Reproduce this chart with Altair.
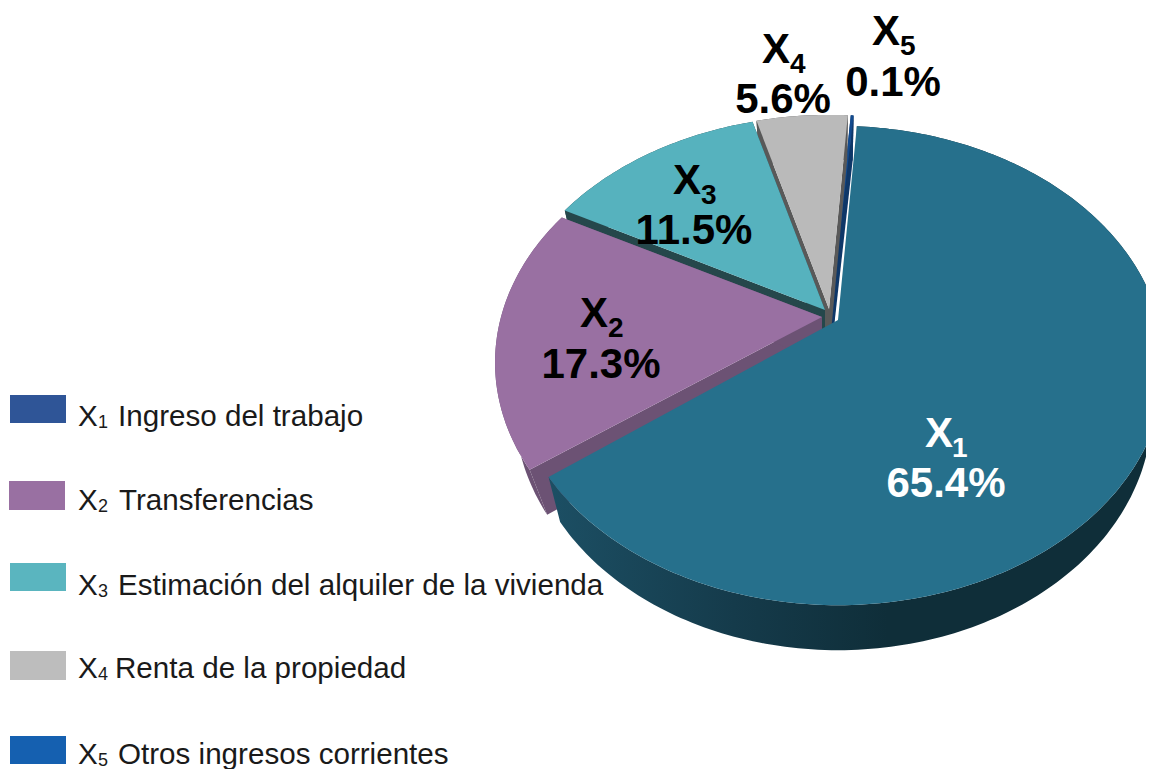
import math
import altair as alt
import pandas as pd

# ---- values
letters = ["X", "X", "X", "X", "X"]
digits = ["1", "2", "3", "4", "5"]
shares = ["65.4%", "17.3%", "11.5%", "5.6%", "0.1%"]
legend_names = ["Ingreso del trabajo", "Transferencias",
                "Estimación del alquiler de la vivienda",
                "Renta de la propiedad", "Otros ingresos corrientes"]
legend_colors = ["#2F5597", "#9970A2", "#5AB5BF", "#BDBDBD", "#1560B0"]
top_colors = ["#26708C", "#9970A2", "#56B2BE", "#BABABA", "#124A8E"]
side_colors = ["#173F50", "#6C5274", "#25474B", "#595959", "#0E3768"]

# slice edges as seen in the tilted pie (degrees clockwise from the top)
edge_start = [4.0, 234.0, 298.0, 344.5, 364.2]
edge_end = [233.0, 298.0, 344.5, 364.0, 364.8]
# each exploded slice's apex
apex_x = [838, 822, 825, 829, 831]
apex_y = [320, 317, 310, 309, 309]

# tilt of the pie
RX, RY, K = 321.0, 231.0, 0.19
DEPTH = 45.0
SHRINK = [0.96, 0.94, 0.96, 0.96, 0.96]

# label placement
code_x = [925, 580, 673, 762, 872]
code_y = [447, 327, 194, 63, 45]
sub_x = [952, 608, 701, 790, 900]
share_x = [946, 601, 694, 783, 893]
share_y = [497, 378, 244, 113, 96]
label_colors = ["white", "black", "black", "black", "black"]

# legend placement
leg_x0 = [10, 9, 10, 10, 10]
leg_x1 = [66, 65, 66, 66, 66]
leg_y0 = [395, 481, 563, 651, 736]
leg_y1 = [423, 510, 591, 680, 764]
leg_base = [426, 510, 595, 678, 764]
leg_name_x = [118, 119, 118, 115, 118]

PLOT_W, PLOT_H = 1138, 761
SX = alt.Scale(domain=[8, 8 + PLOT_W], nice=False, zero=False)
SY = alt.Scale(domain=[8, 8 + PLOT_H], reverse=True, nice=False, zero=False)


def ring(i, deg):
    a = math.radians(deg)
    u, v = math.sin(a), math.cos(a)
    w = 1 + K * v
    return apex_x[i] + RX * u / w, apex_y[i] - RY * v / w


def lower(i, p):
    return apex_x[i] + (p[0] - apex_x[i]) * SHRINK[i], p[1] + DEPTH


def arc(i):
    n = max(2, int(edge_end[i] - edge_start[i]) + 1)
    return [ring(i, edge_start[i] + (edge_end[i] - edge_start[i]) * k / (n - 1)) for k in range(n)]


def poly(pts, fill):
    df = pd.DataFrame({"x": [p[0] for p in pts], "y": [p[1] for p in pts], "i": range(len(pts))})
    return alt.Chart(df).mark_line(fill=fill, strokeOpacity=0, clip=True, interpolate="linear").encode(
        x=alt.X("x:Q", scale=SX, axis=None),
        y=alt.Y("y:Q", scale=SY, axis=None),
        order="i:Q",
    )


def texts(xs, ys, labels, colors, size, weight, align="left"):
    df = pd.DataFrame({"x": xs, "y": ys, "t": labels, "c": colors})
    return alt.Chart(df).mark_text(font="Liberation Sans", fontSize=size, fontWeight=weight,
                                   align=align, baseline="alphabetic").encode(
        x=alt.X("x:Q", scale=SX, axis=None),
        y=alt.Y("y:Q", scale=SY, axis=None),
        text="t:N",
        color=alt.Color("c:N", scale=None),
    )


wall_fill = alt.Gradient(
    gradient="linear", x1=0, y1=0, x2=1, y2=0,
    stops=[alt.GradientStop(offset=0, color="#1C4F64"),
           alt.GradientStop(offset=0.3, color="#153B4B"),
           alt.GradientStop(offset=0.55, color="#0F2E39"),
           alt.GradientStop(offset=1, color="#0F2E39")],
)

layers = []
for i in [4, 3, 2, 1, 0]:
    pts = arc(i)
    apex = (apex_x[i], apex_y[i])
    side = wall_fill if i == 0 else side_colors[i]
    if i != 0:
        for tip in (pts[0], pts[-1]):
            layers.append(poly([apex, tip, lower(i, tip), lower(i, apex)], side_colors[i]))
    layers.append(poly(pts + [lower(i, p) for p in reversed(pts)], side))
    layers.append(poly([apex] + pts, top_colors[i]))

leg = pd.DataFrame({"x": leg_x0, "x2": leg_x1, "y": leg_y0, "y2": leg_y1, "c": legend_colors})
layers.append(alt.Chart(leg).mark_rect().encode(
    x=alt.X("x:Q", scale=SX, axis=None), x2="x2:Q",
    y=alt.Y("y:Q", scale=SY, axis=None), y2="y2:Q",
    color=alt.Color("c:N", scale=None),
))
ink = ["#1a1a1a"] * 5
layers.append(texts([78] * 5, leg_base, letters, ink, 29.6, "normal"))
layers.append(texts([98] * 5, [b + 2 for b in leg_base], digits, ink, 18, "normal"))
layers.append(texts(leg_name_x, leg_base, legend_names, ink, 29.6, "normal"))
layers.append(texts(code_x, code_y, letters, label_colors, 42, "bold"))
layers.append(texts(sub_x, [b + 10 for b in code_y], digits, label_colors, 28, "bold"))
layers.append(texts(share_x, share_y, shares, label_colors, 42, "bold", "center"))

chart = alt.layer(*layers).properties(
    width=PLOT_W, height=PLOT_H, padding=0, background="white",
    autosize=alt.AutoSizeParams(type="none"),
).configure_view(stroke=None)

chart.save("out.html", embed_options={"renderer": "svg", "actions": False})
